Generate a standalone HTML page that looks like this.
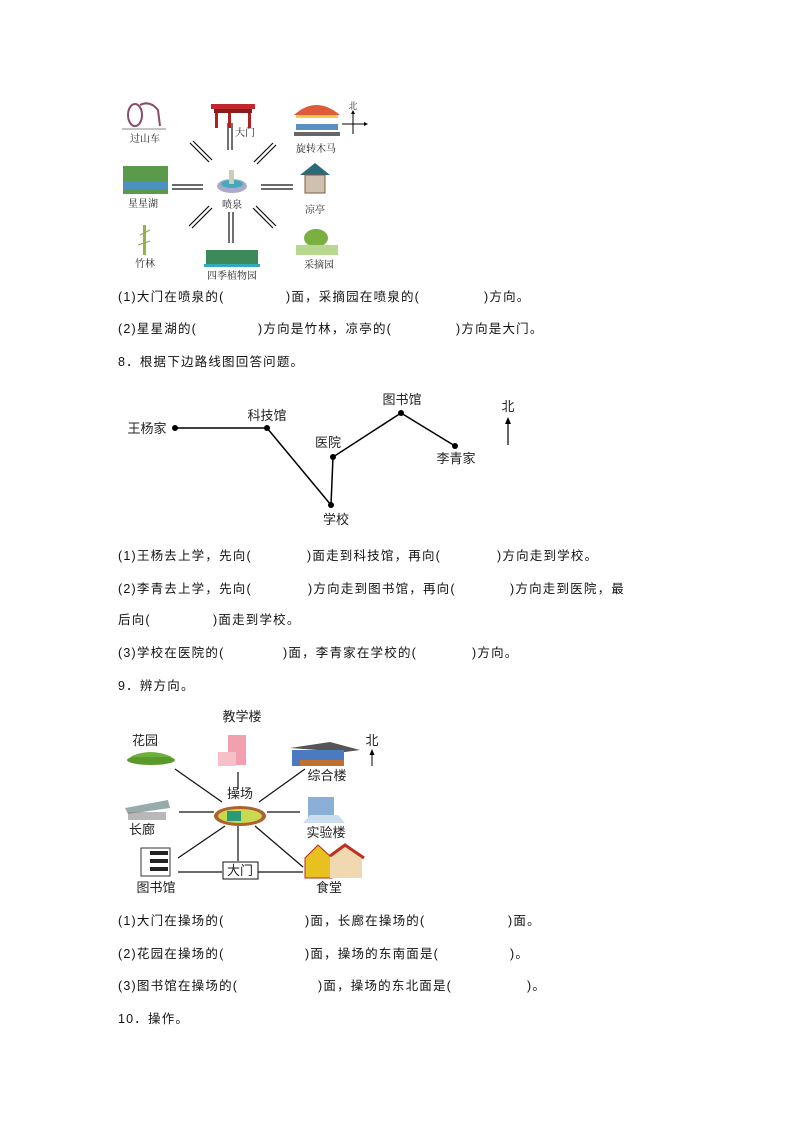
<!DOCTYPE html>
<html><head><meta charset="utf-8"><style>
body{margin:0;background:#fff}
svg{display:block}
.q{font-family:"Liberation Sans","Noto Sans CJK SC",sans-serif;font-size:12.5px;letter-spacing:1.2px;fill:#111}
.l{font-family:"Liberation Serif","Noto Serif CJK SC",serif;font-size:10px;fill:#222;text-anchor:middle}
.m{font-family:"Liberation Sans","Noto Sans CJK SC",sans-serif;font-size:13px;fill:#222;text-anchor:middle}
</style></head><body>
<svg width="794" height="1123" viewBox="0 0 794 1123" xmlns="http://www.w3.org/2000/svg">
<!-- Diagram 1 -->
<g stroke="#111" stroke-width="1.2">
<line x1="228" y1="123" x2="228" y2="150"/><line x1="232" y1="123" x2="232" y2="150"/>
<line x1="190" y1="143" x2="209" y2="162"/><line x1="193" y1="141" x2="212" y2="160"/>
<line x1="254" y1="162" x2="273" y2="143"/><line x1="257" y1="164" x2="276" y2="145"/>
<line x1="172" y1="185" x2="203" y2="185"/><line x1="172" y1="189" x2="203" y2="189"/>
<line x1="261" y1="185" x2="293" y2="185"/><line x1="261" y1="189" x2="293" y2="189"/>
<line x1="189" y1="226" x2="209" y2="206"/><line x1="192" y1="228" x2="212" y2="208"/>
<line x1="229" y1="212" x2="229" y2="243"/><line x1="233" y1="212" x2="233" y2="243"/>
<line x1="253" y1="208" x2="273" y2="228"/><line x1="256" y1="206" x2="276" y2="226"/>
</g>
<!-- icons diagram1 -->
<g fill="none" stroke="#8a4a6a" stroke-width="2"><ellipse cx="135" cy="115" rx="7" ry="11"/><path d="M140 105 Q150 100 158 110 L160 126"/></g>
<line x1="122" y1="129" x2="166" y2="129" stroke="#888"/>
<text class="l" x="145" y="142">过山车</text>
<rect x="211" y="104" width="44" height="5" fill="#c0282d"/><rect x="214" y="109" width="38" height="4" fill="#8b1a1a"/>
<rect x="215" y="113" width="3" height="15" fill="#b02020"/><rect x="248" y="113" width="3" height="15" fill="#b02020"/><rect x="228" y="113" width="3" height="15" fill="#b02020"/>
<text class="l" x="245" y="136">大门</text>
<path d="M294 115 Q316 95 340 115 Z" fill="#e05a3a"/><rect x="296" y="115" width="42" height="3" fill="#f2c94c"/>
<rect x="296" y="124" width="42" height="6" fill="#5a8fc0"/><rect x="294" y="132" width="46" height="4" fill="#666"/>
<text class="l" x="316" y="152">旋转木马</text>
<text class="l" x="353" y="109" style="font-size:9px">北</text>
<line x1="353" y1="112" x2="353" y2="134" stroke="#000"/><line x1="342" y1="124" x2="366" y2="124" stroke="#000"/>
<path d="M353 110 l-2 4 h4z M368 124 l-4 -2 v4z"/>
<rect x="123" y="166" width="45" height="28" fill="#5a9a4a"/><rect x="123" y="182" width="45" height="8" fill="#4a90c0"/>
<text class="l" x="143" y="207">星星湖</text>
<ellipse cx="232" cy="186" rx="15" ry="7" fill="#aac"/><ellipse cx="232" cy="184" rx="11" ry="4" fill="#4ab"/><rect x="229" y="170" width="5" height="14" fill="#ccb"/>
<text class="l" x="232" y="208">喷泉</text>
<path d="M300 175 L315 163 L330 175 Z" fill="#2a6a7a"/><rect x="305" y="175" width="20" height="18" fill="#d0c0b0" stroke="#8a5a3a"/>
<text class="l" x="315" y="213">凉亭</text>
<rect x="143" y="225" width="3" height="30" fill="#9ab048"/><path d="M140 235 l10 -5 M138 245 l12 -4" stroke="#8a4" />
<text class="l" x="145" y="267">竹林</text>
<rect x="206" y="250" width="52" height="15" fill="#3a8a5a"/><rect x="204" y="264" width="56" height="3" fill="#3ab"/>
<text class="l" x="232" y="279">四季植物园</text>
<ellipse cx="316" cy="238" rx="12" ry="9" fill="#7ab040"/><rect x="296" y="245" width="42" height="10" fill="#b8d890"/>
<text class="l" x="319" y="268">采摘园</text>

<text class="q" x="118" y="301">(1)大门在喷泉的(</text><text class="q" x="286" y="301">)面，采摘园在喷泉的(</text><text class="q" x="484" y="301">)方向。</text>
<text class="q" x="118" y="333">(2)星星湖的(</text><text class="q" x="258" y="333">)方向是竹林，凉亭的(</text><text class="q" x="456" y="333">)方向是大门。</text>
<text class="q" x="118" y="366">8．根据下边路线图回答问题。</text>

<!-- Diagram 2 -->
<polyline points="175,428 267,428 331,505 333,457 401,413 455,446" fill="none" stroke="#000" stroke-width="1.5"/>
<g fill="#000"><circle cx="175" cy="428" r="3"/><circle cx="267" cy="428" r="3"/><circle cx="331" cy="505" r="3"/><circle cx="333" cy="457" r="3"/><circle cx="401" cy="413" r="3"/><circle cx="455" cy="446" r="3"/></g>
<text class="m" x="147" y="433">王杨家</text>
<text class="m" x="267" y="420">科技馆</text>
<text class="m" x="336" y="524">学校</text>
<text class="m" x="328" y="447">医院</text>
<text class="m" x="402" y="404">图书馆</text>
<text class="m" x="456" y="463">李青家</text>
<text class="m" x="508" y="411">北</text>
<line x1="508" y1="445" x2="508" y2="422" stroke="#000" stroke-width="1.2"/><path d="M508 417 l-3 7 h6z"/>

<text class="q" x="118" y="560">(1)王杨去上学，先向(</text><text class="q" x="307" y="560">)面走到科技馆，再向(</text><text class="q" x="497" y="560">)方向走到学校。</text>
<text class="q" x="118" y="593">(2)李青去上学，先向(</text><text class="q" x="308" y="593">)方向走到图书馆，再向(</text><text class="q" x="510" y="593">)方向走到医院，最</text>
<text class="q" x="118" y="624">后向(</text><text class="q" x="213" y="624">)面走到学校。</text>
<text class="q" x="118" y="657">(3)学校在医院的(</text><text class="q" x="283" y="657">)面，李青家在学校的(</text><text class="q" x="472" y="657">)方向。</text>
<text class="q" x="118" y="690">9．辨方向。</text>

<!-- Diagram 3 -->
<g stroke="#111" stroke-width="1.2">
<line x1="175" y1="769" x2="222" y2="802"/><line x1="238" y1="772" x2="238" y2="789"/>
<line x1="259" y1="802" x2="305" y2="769"/><line x1="179" y1="812" x2="214" y2="812"/>
<line x1="267" y1="812" x2="300" y2="812"/><line x1="178" y1="858" x2="225" y2="826"/>
<line x1="238" y1="826" x2="238" y2="861"/><line x1="255" y1="826" x2="303" y2="867"/>
<line x1="178" y1="872" x2="222" y2="872"/><line x1="258" y1="872" x2="303" y2="872"/>
</g>
<rect x="223" y="862" width="35" height="17" fill="#fff" stroke="#111"/>
<text class="m" x="240" y="875">大门</text>
<text class="m" x="242" y="721">教学楼</text>
<text class="m" x="145" y="745">花园</text>
<ellipse cx="151" cy="760" rx="24" ry="5" fill="#5a9a2a"/><path d="M130 757 q20 -10 42 0" fill="#6ab03a"/>
<rect x="228" y="735" width="18" height="30" fill="#f2a0b0"/><rect x="218" y="752" width="18" height="14" fill="#f5c0c8"/>
<path d="M290 748 L330 742 L360 750 L345 752 Z" fill="#555"/><rect x="292" y="750" width="52" height="16" fill="#4a7ac0"/><rect x="300" y="760" width="44" height="6" fill="#c07030"/>
<text class="m" x="327" y="780">综合楼</text>
<text class="m" x="372" y="745">北</text><line x1="372" y1="766" x2="372" y2="753" stroke="#000"/><path d="M372 749 l-2.5 6 h5z"/>
<text class="m" x="240" y="798">操场</text>
<ellipse cx="240" cy="816" rx="26" ry="10" fill="#b06030"/><ellipse cx="240" cy="816" rx="22" ry="7" fill="#c8d850"/><rect x="227" y="811" width="14" height="10" fill="#2a9a7a"/>
<path d="M125 808 L168 800 L170 808 L128 814Z" fill="#9aa"/><rect x="128" y="812" width="38" height="8" fill="#888" opacity=".6"/>
<text class="m" x="142" y="834">长廊</text>
<rect x="308" y="797" width="26" height="20" fill="#8ab0d8"/><path d="M303 823 L345 823 L338 815 L310 815Z" fill="#cde"/>
<text class="m" x="326" y="837">实验楼</text>
<rect x="141" y="848" width="29" height="28" fill="#fff" stroke="#333"/><rect x="150" y="851" width="18" height="4" fill="#222"/><rect x="150" y="859" width="18" height="4" fill="#222"/><rect x="150" y="867" width="18" height="4" fill="#222"/>
<text class="m" x="156" y="892">图书馆</text>
<path d="M305 878 L305 858 L318 845 L332 858 L332 878Z" fill="#e8c020" stroke="#b03020"/><path d="M330 855 L345 845 L362 858 L362 878 L330 878Z" fill="#f0d8b0"/><path d="M330 856 L345 845 L364 858" fill="none" stroke="#c03020" stroke-width="3"/>
<text class="m" x="329" y="892">食堂</text>

<text class="q" x="118" y="925">(1)大门在操场的(</text><text class="q" x="305" y="925">)面，长廊在操场的(</text><text class="q" x="508" y="925">)面。</text>
<text class="q" x="118" y="958">(2)花园在操场的(</text><text class="q" x="305" y="958">)面，操场的东南面是(</text><text class="q" x="510" y="958">)。</text>
<text class="q" x="118" y="990">(3)图书馆在操场的(</text><text class="q" x="318" y="990">)面，操场的东北面是(</text><text class="q" x="527" y="990">)。</text>
<text class="q" x="118" y="1023">10．操作。</text>
</svg>
</body></html>
